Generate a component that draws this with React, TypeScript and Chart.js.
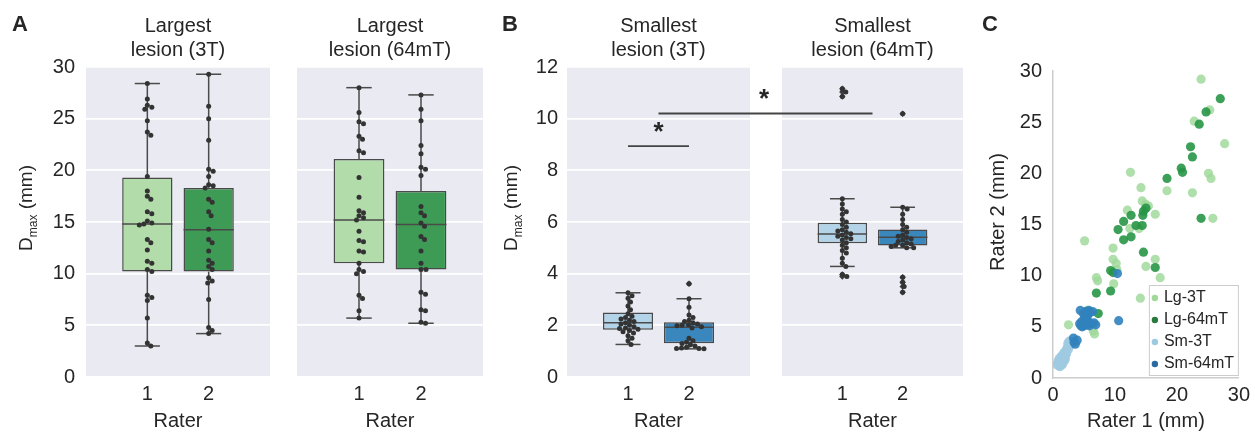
import React, { useEffect, useRef } from 'react';
import { Chart, registerables } from 'chart.js';

Chart.register(...registerables);

const FONT = "'Liberation Sans', Arial, sans-serif";
const TEXT = '#262626';
Chart.defaults.font.family = FONT;
Chart.defaults.color = TEXT;

// ---------- tick labels ----------
const RATER_LABELS = ['1', '2'];
const RATER_POS = [0, 1];
const LG_Y_TICKS = [0, 5, 10, 15, 20, 25, 30];
const SM_Y_TICKS = [0, 2, 4, 6, 8, 10, 12];
const SC_X_TICKS = [0, 10, 20, 30];
const SC_Y_TICKS = [0, 5, 10, 15, 20, 25, 30];

// ---------- box stats: [lower whisker, q1, median, q3, upper whisker] ----------
const LG3T_BOX_R1 = [3.0, 10.2, 14.8, 19.3, 28.4];
const LG3T_BOX_R2 = [4.2, 10.2, 14.25, 18.3, 29.3];
const LG64_BOX_R1 = [5.7, 11.0, 15.2, 21.1, 28.0];
const LG64_BOX_R2 = [5.2, 10.4, 14.75, 18.0, 27.3];
const SM3T_BOX_R1 = [1.26, 1.83, 2.1, 2.5, 3.26];
const SM3T_BOX_R2 = [1.09, 1.31, 1.93, 2.12, 3.03];
const SM64_BOX_R1 = [4.28, 5.18, 5.54, 5.97, 6.9];
const SM64_BOX_R2 = [5.0, 5.09, 5.41, 5.71, 6.57];

// ---------- individual measurements (strip points) ----------
const LG3T_R1_PTS = [28.4, 26.9, 26.3, 26.1, 25.9, 24.8, 23.7, 23.4, 19.4, 18.0, 17.5, 17.2, 16.0, 15.8, 15.1, 14.9, 14.8, 14.7, 13.3, 13.0, 12.3, 11.2, 11.0, 10.4, 10.2, 7.9, 7.7, 7.4, 5.7, 3.3, 3.0];
const LG3T_R2_PTS = [29.3, 26.2, 25.0, 22.9, 20.1, 19.9, 19.4, 18.6, 18.5, 18.3, 17.2, 16.9, 16.0, 15.6, 14.3, 13.3, 13.0, 12.2, 11.3, 11.0, 10.7, 10.4, 9.6, 9.3, 9.1, 7.5, 4.8, 4.5, 4.2];
const LG64_R1_PTS = [28.0, 25.6, 24.7, 24.5, 23.3, 23.0, 21.9, 21.7, 19.3, 17.4, 16.1, 15.9, 15.6, 15.4, 15.2, 14.1, 13.2, 13.1, 12.2, 12.1, 11.0, 10.4, 10.2, 10.0, 7.9, 7.6, 6.4, 5.7];
const LG64_R2_PTS = [27.3, 25.9, 24.8, 22.4, 21.6, 20.3, 20.1, 19.5, 16.5, 15.9, 15.6, 14.9, 14.6, 13.6, 13.3, 12.2, 11.0, 10.4, 10.4, 8.2, 8.0, 6.5, 6.4, 5.3, 5.2];
const SM3T_R1_PTS = [3.26, 3.15, 3.05, 2.9, 2.75, 2.6, 2.45, 2.35, 2.3, 2.25, 2.2, 2.15, 2.1, 2.05, 2.0, 1.95, 1.9, 1.88, 1.85, 1.8, 1.75, 1.7, 1.6, 1.5, 1.4, 1.26];
const SM3T_R2_PTS = [3.61, 3.03, 2.7, 2.4, 2.3, 2.2, 2.15, 2.1, 2.05, 2.02, 2.0, 1.98, 1.95, 1.9, 1.5, 1.4, 1.35, 1.3, 1.25, 1.2, 1.15, 1.12, 1.1, 1.1, 1.09];
const SM64_R1_PTS = [11.16, 11.03, 10.86, 6.9, 6.7, 6.5, 6.4, 6.3, 6.1, 6.0, 5.9, 5.8, 5.7, 5.65, 5.6, 5.55, 5.5, 5.45, 5.4, 5.35, 5.3, 5.2, 5.1, 5.0, 4.9, 4.8, 4.6, 4.4, 4.28, 3.97, 3.89];
const SM64_R2_PTS = [10.19, 6.57, 6.5, 6.3, 6.1, 5.9, 5.8, 5.7, 5.6, 5.5, 5.45, 5.4, 5.35, 5.3, 5.25, 5.2, 5.15, 5.1, 5.1, 5.05, 5.0, 5.0, 3.86, 3.67, 3.5, 3.28];

// ---------- outliers (fliers) ----------
const SM3T_FLIERS_R1: number[] = [];
const SM3T_FLIERS_R2 = [3.61];
const SM64_FLIERS_R1 = [11.16, 11.03, 10.86, 3.97, 3.89];
const SM64_FLIERS_R2 = [10.19, 3.86, 3.67, 3.5, 3.28];

// ---------- significance bars (data units) ----------
const SIG_WITHIN_3T = { from: 0, to: 1, y: 8.94, star: 9.62 };
const SIG_3T_VS_64 = { mid: 0.5, y: 10.2, star: 10.9 };

// ---------- panel C scatter: rater 1 (x) vs rater 2 (y) ----------
const LG3T_X = [23.9, 25.3, 22.8, 27.7, 12.5, 25.1, 25.5, 14.2, 18.4, 22.5, 14.4, 14.9, 15.4, 12.0, 16.5, 25.8, 12.4, 13.9, 5.1, 9.7, 9.7, 10.2, 15.0, 16.5, 10.3, 7.0, 7.2, 9.8, 17.3, 14.1, 2.5, 6.5, 6.7, 5.5, 5.0];
const LG3T_Y = [29.2, 26.2, 25.1, 22.9, 20.1, 20.0, 19.5, 18.6, 18.3, 18.1, 17.3, 17.0, 16.8, 16.4, 16.0, 15.6, 14.6, 14.6, 13.4, 12.7, 11.6, 11.2, 10.9, 11.6, 10.6, 9.8, 9.5, 9.2, 9.8, 7.8, 5.2, 4.6, 4.3, 6.6, 5.5];
const LG64_X = [27.0, 24.7, 23.6, 22.2, 22.5, 20.7, 20.9, 18.4, 12.6, 11.4, 10.5, 12.6, 11.4, 13.4, 14.4, 14.6, 15.0, 14.5, 14.6, 16.5, 9.3, 7.0, 9.3, 7.3, 5.5, 5.1, 23.9, 9.7];
const LG64_Y = [27.3, 26.0, 24.8, 22.6, 21.6, 20.5, 20.1, 19.5, 15.9, 15.3, 14.5, 13.8, 13.5, 14.9, 14.9, 16.3, 16.6, 15.9, 12.3, 10.8, 10.5, 8.3, 8.5, 6.3, 6.5, 5.6, 15.6, 10.3];
const SM3T_X = [0.6, 0.8, 1.0, 1.0, 1.2, 1.3, 1.4, 1.5, 1.6, 1.7, 1.8, 1.9, 2.0, 2.1, 2.2, 2.3, 2.4, 2.5, 2.6, 2.8, 1.1, 1.6, 2.0, 0.9, 3.0];
const SM3T_Y = [1.3, 1.6, 1.2, 1.9, 1.5, 2.1, 1.8, 1.3, 2.3, 2.0, 2.5, 1.7, 2.2, 2.7, 2.4, 3.0, 3.4, 2.8, 3.6, 3.2, 1.1, 1.5, 1.9, 1.4, 3.5];
const SM64_X = [3.3, 3.4, 3.6, 3.9, 4.3, 4.5, 4.6, 4.8, 4.9, 5.0, 5.2, 5.3, 5.5, 5.6, 5.7, 5.9, 6.0, 6.2, 6.4, 6.6, 5.1, 4.4, 5.8, 6.9, 4.7, 5.4, 10.6, 10.4];
const SM64_Y = [3.9, 3.5, 3.3, 3.7, 5.3, 5.1, 5.5, 5.3, 6.3, 5.1, 5.4, 6.5, 5.2, 6.1, 5.5, 5.1, 6.4, 5.3, 6.5, 5.4, 6.0, 6.6, 6.6, 5.2, 5.0, 5.7, 5.6, 10.2];

// ---------- styles ----------
const PANEL_BG = '#EAEAF2';
const BOX_LINE = '#4a4a4a';
const GREEN_LIGHT = '#b2dcaa';
const GREEN_DARK = '#3d9b55';
const BLUE_LIGHT = '#b3d4e8';
const BLUE_DARK = '#3a87be';
const STRIP = '#333333';
const FIG_H = 433;
const MIN_D = 4.6;

// swarm layout of strip points (pixel-space collision avoidance)
const swarmPlugin = {
  id: 'swarm',
  afterDatasetsUpdate(chart: any) {
    chart.data.datasets.forEach((ds: any, di: number) => {
      if (!ds.swarm) return;
      const meta = chart.getDatasetMeta(di);
      const groups: Record<string, any[]> = {};
      meta.data.forEach((el: any, i: number) => {
        const key = String(ds.data[i].x);
        (groups[key] = groups[key] || []).push(el);
      });
      Object.values(groups).forEach((els) => {
        const placed: any[] = [];
        els.slice().sort((a, b) => a.y - b.y).forEach((el) => {
          const x0 = el.x;
          for (let k = 0; k < 400; k++) {
            const off = (k % 2 ? 1 : -1) * Math.ceil(k / 2) * 0.5;
            const nx = x0 + off;
            if (placed.every((q) => (q.x - nx) ** 2 + (q.y - el.y) ** 2 >= MIN_D * MIN_D)) {
              el.x = nx;
              break;
            }
          }
          placed.push(el);
        });
      });
    });
  },
};

function line(ctx: CanvasRenderingContext2D, x1: number, y1: number, x2: number, y2: number) {
  ctx.beginPath();
  ctx.moveTo(x1, y1);
  ctx.lineTo(x2, y2);
  ctx.stroke();
}

function text(ctx: CanvasRenderingContext2D, s: string, x: number, y: number, font: string, align: CanvasTextAlign = 'center', baseline: CanvasTextBaseline = 'alphabetic') {
  ctx.font = font;
  ctx.fillStyle = TEXT;
  ctx.textAlign = align;
  ctx.textBaseline = baseline;
  ctx.fillText(s, x, y);
}

type Part = { t: string; size: number; dy: number };
function rotLabel(ctx: CanvasRenderingContext2D, parts: Part[], cx: number, cy: number) {
  ctx.save();
  ctx.translate(cx, cy);
  ctx.rotate(-Math.PI / 2);
  ctx.fillStyle = TEXT;
  ctx.textAlign = 'left';
  ctx.textBaseline = 'alphabetic';
  let total = 0;
  parts.forEach((p) => {
    ctx.font = `${p.size}px ${FONT}`;
    total += ctx.measureText(p.t).width;
  });
  let x = -total / 2;
  parts.forEach((p) => {
    ctx.font = `${p.size}px ${FONT}`;
    ctx.fillText(p.t, x, 7 + p.dy);
    x += ctx.measureText(p.t).width;
  });
  ctx.restore();
}

function makeDecor(cfg: any) {
  return {
    id: 'decor',
    beforeDraw(chart: any) {
      if (!cfg.bg) return;
      const { left, top, width, height } = chart.chartArea;
      const ctx = chart.ctx;
      ctx.save();
      ctx.fillStyle = cfg.bg;
      ctx.fillRect(left, top, width, height);
      ctx.restore();
    },
    afterDatasetDraw(chart: any, args: any) {
      const ds = chart.data.datasets[args.index];
      if (!ds.boxStats) return;
      const ctx = chart.ctx;
      const ys = chart.scales.y;
      ctx.save();
      ctx.strokeStyle = BOX_LINE;
      ctx.lineWidth = 1.5;
      args.meta.data.forEach((bar: any, i: number) => {
        const [lo, q1, med, q3, hi] = ds.boxStats[i];
        const x = bar.x;
        const w = bar.width;
        const pm = ys.getPixelForValue(med);
        line(ctx, x - w / 2, pm, x + w / 2, pm);
        const p1 = ys.getPixelForValue(q1), p3 = ys.getPixelForValue(q3);
        const pl = ys.getPixelForValue(lo), ph = ys.getPixelForValue(hi);
        line(ctx, x, p3, x, ph);
        line(ctx, x, p1, x, pl);
        line(ctx, x - w / 4, ph, x + w / 4, ph);
        line(ctx, x - w / 4, pl, x + w / 4, pl);
      });
      ctx.restore();
    },
    afterDraw(chart: any) {
      const ctx = chart.ctx;
      const ca = chart.chartArea;
      const cxm = (ca.left + ca.right) / 2;
      ctx.save();
      if (cfg.title) {
        text(ctx, cfg.title[0], cxm, 32, `20px ${FONT}`);
        text(ctx, cfg.title[1], cxm, 56, `20px ${FONT}`);
      }
      if (cfg.letter) {
        text(ctx, cfg.letter.t, cfg.letter.x, 31, `bold 22px ${FONT}`, 'left');
      }
      if (cfg.ylabel) {
        rotLabel(ctx, cfg.ylabel.parts, cfg.ylabel.cx, cfg.ylabel.cy);
      }
      const xs = chart.scales.x;
      const ys = chart.scales.y;
      ctx.strokeStyle = '#444444';
      ctx.lineWidth = 1.8;
      (cfg.sigLines || []).forEach((s: any) => {
        const x1 = s.from === 'left' ? 0 : xs.getPixelForValue(s.from);
        const x2 = s.to === 'right' ? chart.width : xs.getPixelForValue(s.to);
        const y = ys.getPixelForValue(s.y);
        line(ctx, x1, y, x2, y);
      });
      (cfg.stars || []).forEach((s: any) => {
        const x = s.x === 'gap' ? (ca.right + chart.width) / 2 : xs.getPixelForValue(s.x);
        const y = ys.getPixelForValue(s.y);
        text(ctx, '*', x, y + 12, `bold 26px ${FONT}`);
      });
      if (cfg.legend) {
        const bw = 89, bh = 90;
        const bx = ca.right - bw - 1;
        const by = ca.bottom - bh - 3;
        ctx.fillStyle = 'rgba(255,255,255,0.85)';
        ctx.fillRect(bx, by, bw, bh);
        ctx.strokeStyle = '#cccccc';
        ctx.lineWidth = 1;
        ctx.strokeRect(bx + 0.5, by + 0.5, bw, bh);
        chart.data.datasets.forEach((ds: any, i: number) => {
          const cy = by + 13 + i * 22;
          ctx.fillStyle = ds.legendColor;
          ctx.beginPath();
          ctx.arc(bx + 6, cy, 3.2, 0, Math.PI * 2);
          ctx.fill();
          text(ctx, ds.label, bx + 15, cy, `16px ${FONT}`, 'left', 'middle');
        });
      }
      ctx.restore();
    },
  };
}

function boxConfig(p: any) {
  const strip = [
    ...p.pts[0].map((v: number) => ({ x: RATER_POS[0], y: v })),
    ...p.pts[1].map((v: number) => ({ x: RATER_POS[1], y: v })),
  ];
  const fliers = [
    ...p.fliers[0].map((v: number) => ({ x: RATER_POS[0], y: v })),
    ...p.fliers[1].map((v: number) => ({ x: RATER_POS[1], y: v })),
  ];
  const boxes = p.stats.map((s: number[], i: number) => ({ x: RATER_POS[i], y: [s[1], s[3]] }));
  return {
    type: 'bar',
    data: {
      datasets: [
        { type: 'scatter', data: strip, pointRadius: 2.5, backgroundColor: STRIP, borderWidth: 0, pointBorderWidth: 0, swarm: true, order: 0 },
        { type: 'scatter', data: fliers, pointStyle: 'rectRot', pointRadius: 3.2, backgroundColor: '#3c3c3c', borderWidth: 0, pointBorderWidth: 0, order: 1 },
        {
          type: 'bar', data: boxes, backgroundColor: p.colors, borderColor: BOX_LINE, borderWidth: 1.5,
          borderSkipped: false, barPercentage: 0.82, categoryPercentage: 1, boxStats: p.stats, order: 2,
        },
      ],
    },
    options: {
      responsive: false,
      animation: false,
      layout: { padding: { left: p.padL, right: p.padR, top: 67, bottom: 0 } },
      plugins: { legend: { display: false }, tooltip: { enabled: false } },
      scales: {
        x: {
          type: 'linear', min: -1, max: 2, offset: false,
          afterBuildTicks: (s: any) => { s.ticks = RATER_POS.map((v) => ({ value: v })); },
          ticks: { callback: (_v: any, i: number) => RATER_LABELS[i], font: { size: 20 }, color: TEXT, padding: 5 },
          grid: { display: false, drawTicks: false },
          border: { display: false },
          title: { display: true, text: 'Rater', font: { size: 20 }, color: TEXT, padding: { top: 0, bottom: 0 } },
          afterFit: (s: any) => { s.height = FIG_H - 377; },
        },
        y: {
          type: 'linear', min: 0, max: p.yMax,
          afterBuildTicks: (s: any) => { s.ticks = p.yTicks.map((v: number) => ({ value: v })); },
          ticks: { display: p.yW > 0, font: { size: 20 }, color: TEXT, padding: p.tickPad },
          grid: { color: '#ffffff', lineWidth: 1.8, drawTicks: false },
          border: { display: false },
          afterFit: (s: any) => { s.width = p.yW; },
        },
      },
    },
    plugins: [makeDecor(p), swarmPlugin],
  };
}

const DMAX_LABEL: Part[] = [
  { t: 'D', size: 19, dy: 0 },
  { t: 'max', size: 12, dy: 5 },
  { t: ' (mm)', size: 19, dy: 0 },
];

const pairs = (xs: number[], ys: number[]) => xs.map((x, i) => ({ x, y: ys[i] }));

function scatterConfig() {
  const cfg = {
    legend: true,
    letter: { t: 'C', x: 7 },
    ylabel: { parts: [{ t: 'Rater 2 (mm)', size: 20, dy: 0 }], cx: 22, cy: 212 },
  };
  const mk = (label: string, data: any[], color: string, legendColor: string, order: number) => ({
    label, data, backgroundColor: color, legendColor, pointRadius: 4.6, borderWidth: 0, pointBorderWidth: 0, order,
  });
  return {
    type: 'scatter',
    data: {
      datasets: [
        mk('Lg-3T', pairs(LG3T_X, LG3T_Y), 'rgba(161,217,155,0.85)', '#a1d99b', 4),
        mk('Lg-64mT', pairs(LG64_X, LG64_Y), 'rgba(40,150,70,0.9)', '#2a7a3f', 3),
        mk('Sm-3T', pairs(SM3T_X, SM3T_Y), 'rgba(158,202,225,0.9)', '#9ecae1', 2),
        mk('Sm-64mT', pairs(SM64_X, SM64_Y), 'rgba(49,130,189,0.9)', '#2a6aa0', 1),
      ],
    },
    options: {
      responsive: false,
      animation: false,
      layout: { padding: { left: 0, right: 10, top: 71, bottom: 0 } },
      plugins: { legend: { display: false }, tooltip: { enabled: false } },
      scales: {
        x: {
          type: 'linear', min: 0, max: 30,
          afterBuildTicks: (s: any) => { s.ticks = SC_X_TICKS.map((v) => ({ value: v })); },
          ticks: { font: { size: 20 }, color: TEXT, padding: 5 },
          grid: { display: false, drawTicks: false },
          border: { display: true, color: '#cccccc', width: 1.5 },
          title: { display: true, text: 'Rater 1 (mm)', font: { size: 20 }, color: TEXT, padding: { top: 0, bottom: 0 } },
          afterFit: (s: any) => { s.height = FIG_H - 378; },
        },
        y: {
          type: 'linear', min: 0, max: 30,
          afterBuildTicks: (s: any) => { s.ticks = SC_Y_TICKS.map((v) => ({ value: v })); },
          ticks: { font: { size: 20 }, color: TEXT, padding: 11 },
          grid: { display: false, drawTicks: false },
          border: { display: true, color: '#cccccc', width: 1.5 },
          afterFit: (s: any) => { s.width = 78; },
        },
      },
    },
    plugins: [makeDecor(cfg)],
  };
}

const PANELS = [
  {
    left: 0, width: 280,
    config: () => boxConfig({
      padL: 0, padR: 10, yW: 86, tickPad: 11, yMax: 30, yTicks: LG_Y_TICKS, bg: PANEL_BG,
      title: ['Largest', 'lesion (3T)'], colors: [GREEN_LIGHT, GREEN_DARK],
      stats: [LG3T_BOX_R1, LG3T_BOX_R2], pts: [LG3T_R1_PTS, LG3T_R2_PTS], fliers: [[], []],
      letter: { t: 'A', x: 12 }, ylabel: { parts: DMAX_LABEL, cx: 25, cy: 208 },
    }),
  },
  {
    left: 283, width: 210,
    config: () => boxConfig({
      padL: 14, padR: 10, yW: 0, tickPad: 0, yMax: 30, yTicks: LG_Y_TICKS, bg: PANEL_BG,
      title: ['Largest', 'lesion (64mT)'], colors: [GREEN_LIGHT, GREEN_DARK],
      stats: [LG64_BOX_R1, LG64_BOX_R2], pts: [LG64_R1_PTS, LG64_R2_PTS], fliers: [[], []],
    }),
  },
  {
    left: 778, width: 197,
    config: () => boxConfig({
      padL: 0, padR: 12, yW: 0, tickPad: 0, yMax: 12, yTicks: SM_Y_TICKS, bg: PANEL_BG,
      title: ['Smallest', 'lesion (64mT)'], colors: [BLUE_LIGHT, BLUE_DARK],
      stats: [SM64_BOX_R1, SM64_BOX_R2], pts: [SM64_R1_PTS, SM64_R2_PTS], fliers: [SM64_FLIERS_R1, SM64_FLIERS_R2],
      sigLines: [{ from: 'left', to: SIG_3T_VS_64.mid, y: SIG_3T_VS_64.y }],
    }),
  },
  {
    left: 488, width: 290,
    config: () => boxConfig({
      padL: 0, padR: 28, yW: 79, tickPad: 9, yMax: 12, yTicks: SM_Y_TICKS, bg: PANEL_BG,
      title: ['Smallest', 'lesion (3T)'], colors: [BLUE_LIGHT, BLUE_DARK],
      stats: [SM3T_BOX_R1, SM3T_BOX_R2], pts: [SM3T_R1_PTS, SM3T_R2_PTS], fliers: [SM3T_FLIERS_R1, SM3T_FLIERS_R2],
      letter: { t: 'B', x: 14 }, ylabel: { parts: DMAX_LABEL, cx: 22, cy: 208 },
      sigLines: [
        { from: SIG_WITHIN_3T.from, to: SIG_WITHIN_3T.to, y: SIG_WITHIN_3T.y },
        { from: SIG_3T_VS_64.mid, to: 'right', y: SIG_3T_VS_64.y },
      ],
      stars: [
        { x: (SIG_WITHIN_3T.from + SIG_WITHIN_3T.to) / 2, y: SIG_WITHIN_3T.star },
        { x: 'gap', y: SIG_3T_VS_64.star },
      ],
    }),
  },
  { left: 975, width: 280, config: scatterConfig },
];

export default function App() {
  const refs = useRef<(HTMLCanvasElement | null)[]>([]);
  useEffect(() => {
    const charts = PANELS.map((p, i) => new Chart(refs.current[i] as HTMLCanvasElement, p.config() as any));
    return () => charts.forEach((c) => c.destroy());
  }, []);
  return (
    <div style={{ position: 'fixed', left: 0, top: 0, width: 1255, height: FIG_H, background: '#ffffff', overflow: 'hidden' }}>
      {PANELS.map((p, i) => (
        <canvas
          key={i}
          ref={(el) => { refs.current[i] = el; }}
          width={p.width}
          height={FIG_H}
          style={{ position: 'absolute', left: p.left, top: 0 }}
        />
      ))}
    </div>
  );
}
